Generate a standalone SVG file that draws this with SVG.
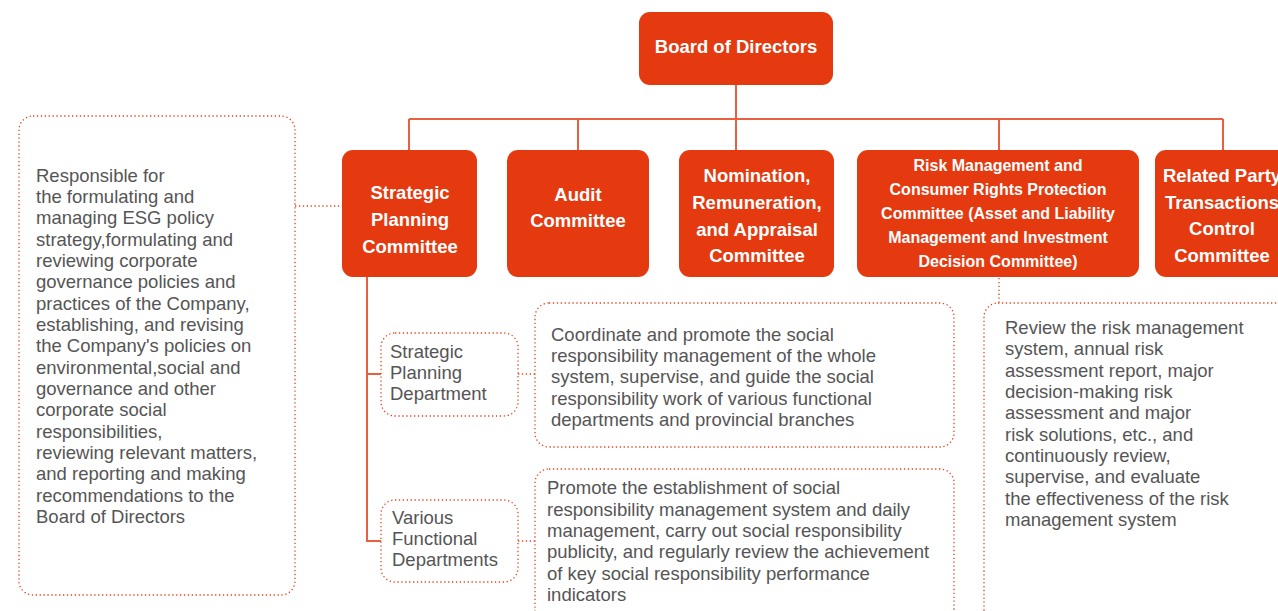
<svg xmlns="http://www.w3.org/2000/svg" width="1278" height="611" viewBox="0 0 1278 611">
<style>
.node{fill:#e5390f}
.nt{font-family:"Liberation Sans",Arial,sans-serif;font-weight:bold;fill:#fff;text-anchor:middle;font-size:18.5px}
.nt16{font-size:16px}
.dot{fill:none;stroke:#e8421b;stroke-width:1.3;stroke-dasharray:1.3 2.6}
.dt{font-family:"Liberation Sans",Arial,sans-serif;fill:#555;font-size:18.5px}
.ln{fill:none;stroke:#e8603f;stroke-width:2}
</style>
<rect width="1278" height="611" fill="#fff"/>
<g id="connectors">
<path class="ln" d="M736 85V119M409 119H1223M409 119V150M578 119V150M736 119V150M999 119V150M1223 119V150"/>
<path class="ln" d="M367 277V541H381M367 374H381"/>
<path class="dot" d="M295 206H342M518 374H535M518 541H535M999 278V303"/>
</g>
<g id="board">
<rect class="node" x="639" y="12" width="194" height="73" rx="11"/>
<text class="nt" x="736" y="53">Board of Directors</text>
</g>
<g id="strategic">
<rect class="node" x="342" y="150" width="135" height="127" rx="11"/>
<text class="nt" x="410"><tspan x="410" y="199">Strategic</tspan><tspan x="410" y="226">Planning</tspan><tspan x="410" y="253">Committee</tspan></text>
</g>
<g id="audit">
<rect class="node" x="507" y="150" width="142" height="127" rx="11"/>
<text class="nt"><tspan x="578" y="201">Audit</tspan><tspan x="578" y="227">Committee</tspan></text>
</g>
<g id="nomination">
<rect class="node" x="679" y="150" width="155" height="127" rx="11"/>
<text class="nt"><tspan x="757" y="182">Nomination,</tspan><tspan x="757" y="209">Remuneration,</tspan><tspan x="757" y="236">and Appraisal</tspan><tspan x="757" y="262">Committee</tspan></text>
</g>
<g id="risk">
<rect class="node" x="857" y="150" width="282" height="127" rx="11"/>
<text class="nt nt16"><tspan x="998" y="171">Risk Management and</tspan><tspan x="998" y="195">Consumer Rights Protection</tspan><tspan x="998" y="219">Committee (Asset and Liability</tspan><tspan x="998" y="243">Management and Investment</tspan><tspan x="998" y="267">Decision Committee)</tspan></text>
</g>
<g id="related">
<rect class="node" x="1155" y="150" width="140" height="127" rx="11"/>
<text class="nt"><tspan x="1222" y="182">Related Party</tspan><tspan x="1222" y="209">Transactions</tspan><tspan x="1222" y="235">Control</tspan><tspan x="1222" y="262">Committee</tspan></text>
</g>
<g id="esg-desc">
<rect class="dot" x="19" y="116" width="276" height="479" rx="14"/>
<text class="dt"><tspan x="36" y="182">Responsible for</tspan><tspan x="36" y="203">the formulating and</tspan><tspan x="36" y="224">managing ESG policy</tspan><tspan x="36" y="246">strategy,formulating and</tspan><tspan x="36" y="267">reviewing corporate</tspan><tspan x="36" y="288">governance policies and</tspan><tspan x="36" y="310">practices of the Company,</tspan><tspan x="36" y="331">establishing, and revising</tspan><tspan x="36" y="352">the Company's policies on</tspan><tspan x="36" y="374">environmental,social and</tspan><tspan x="36" y="395">governance and other</tspan><tspan x="36" y="416">corporate social</tspan><tspan x="36" y="438">responsibilities,</tspan><tspan x="36" y="459">reviewing relevant matters,</tspan><tspan x="36" y="480">and reporting and making</tspan><tspan x="36" y="502">recommendations to the</tspan><tspan x="36" y="523">Board of Directors</tspan></text>
</g>
<g id="spd">
<rect class="dot" x="381" y="333" width="137" height="83" rx="14"/>
<text class="dt"><tspan x="390" y="358">Strategic</tspan><tspan x="390" y="379">Planning</tspan><tspan x="390" y="400">Department</tspan></text>
</g>
<g id="vfd">
<rect class="dot" x="381" y="500" width="137" height="82" rx="14"/>
<text class="dt"><tspan x="392" y="524">Various</tspan><tspan x="392" y="545">Functional</tspan><tspan x="392" y="566">Departments</tspan></text>
</g>
<g id="spd-desc">
<rect class="dot" x="535" y="303" width="419" height="144" rx="14"/>
<text class="dt"><tspan x="551" y="341">Coordinate and promote the social</tspan><tspan x="551" y="362">responsibility management of the whole</tspan><tspan x="551" y="383">system, supervise, and guide the social</tspan><tspan x="551" y="405">responsibility work of various functional</tspan><tspan x="551" y="426">departments and provincial branches</tspan></text>
</g>
<g id="vfd-desc">
<rect class="dot" x="535" y="469" width="419" height="160" rx="14"/>
<text class="dt"><tspan x="547" y="494">Promote the establishment of social</tspan><tspan x="547" y="516">responsibility management system and daily</tspan><tspan x="547" y="537">management, carry out social responsibility</tspan><tspan x="547" y="558">publicity, and regularly review the achievement</tspan><tspan x="547" y="580">of key social responsibility performance</tspan><tspan x="547" y="601">indicators</tspan></text>
</g>
<g id="risk-desc">
<rect class="dot" x="984" y="303" width="310" height="330" rx="14"/>
<text class="dt"><tspan x="1005" y="334">Review the risk management</tspan><tspan x="1005" y="355">system, annual risk</tspan><tspan x="1005" y="377">assessment report, major</tspan><tspan x="1005" y="398">decision-making risk</tspan><tspan x="1005" y="419">assessment and major</tspan><tspan x="1005" y="441">risk solutions, etc., and</tspan><tspan x="1005" y="462">continuously review,</tspan><tspan x="1005" y="483">supervise, and evaluate</tspan><tspan x="1005" y="505">the effectiveness of the risk</tspan><tspan x="1005" y="526">management system</tspan></text>
</g>
</svg>
